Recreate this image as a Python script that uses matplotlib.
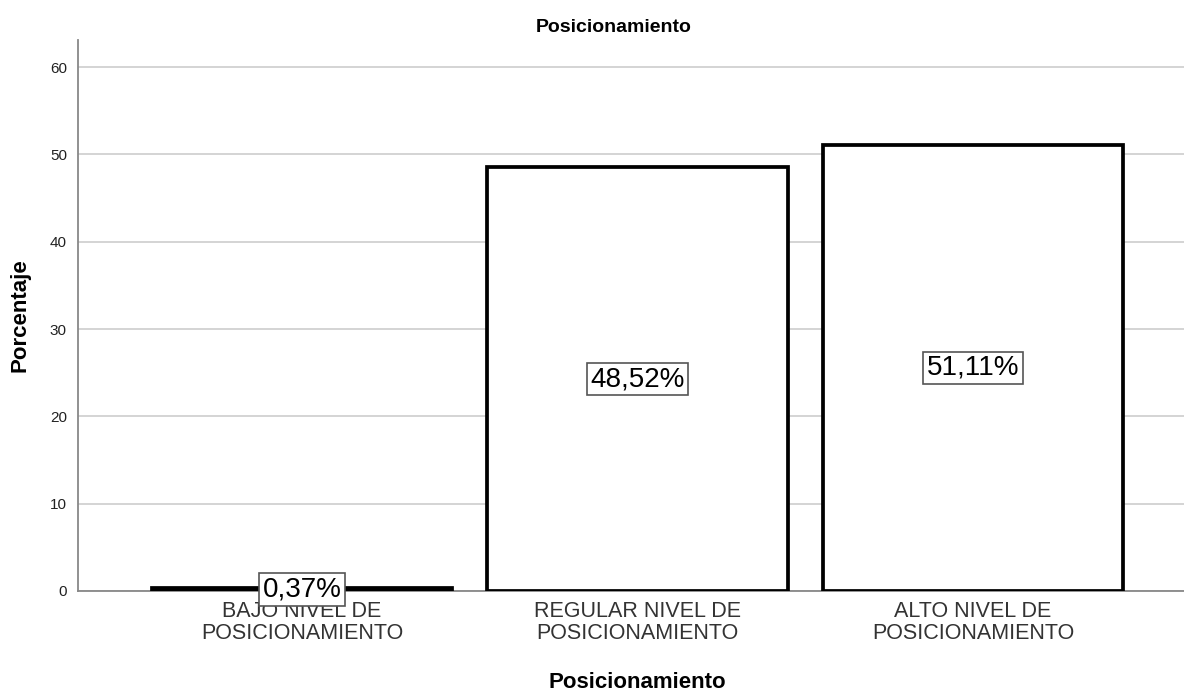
import matplotlib
matplotlib.use("Agg")
import matplotlib.pyplot as plt
import matplotlib.transforms as mtransforms

plt.rcParams['font.family'] = ['Liberation Sans', 'DejaVu Sans']

categories = ["BAJO NIVEL DE\nPOSICIONAMIENTO",
              "REGULAR NIVEL DE\nPOSICIONAMIENTO",
              "ALTO NIVEL DE\nPOSICIONAMIENTO"]
percentages = [0.37, 48.52, 51.11]
value_labels = ["0,37%", "48,52%", "51,11%"]
y_ticks = [0, 10, 20, 30, 40, 50, 60]

W, H, DPI = 1184, 695, 100
fig = plt.figure(figsize=(W / DPI, H / DPI), dpi=DPI)
ax = fig.add_axes([78 / W, 1 - 591 / H, (W - 78) / W, (591 - 40) / H])

x = list(range(len(categories)))
ax.set_xlim(-0.668, 2.629)
ax.set_ylim(0, 63.1)

# horizontal gridlines behind the bars
ax.set_yticks(y_ticks)
ax.yaxis.grid(True, color="#d4d4d4", linewidth=1.4)
ax.set_axisbelow(True)

ax.bar(x, percentages, width=0.895, facecolor="white", edgecolor="black",
       linewidth=2.7, zorder=3)

for xi, v, lab in zip(x, percentages, value_labels):
    ax.text(xi, v / 2, lab, ha="center", va="center", fontsize=20,
            color="black", zorder=5,
            bbox=dict(boxstyle="square,pad=0.12", facecolor="white",
                      edgecolor="#555555", linewidth=1.2))

ax.set_xticks(x)
ax.set_xticklabels(categories, fontsize=15.5, color="#333333",
                   linespacing=1.1)
ax.tick_params(axis="x", length=0, pad=7)
ax.tick_params(axis="y", length=0, pad=8, labelsize=11, labelcolor="#222222")

for side in ("top", "right"):
    ax.spines[side].set_visible(False)
ax.spines["left"].set_color("#888888")
ax.spines["left"].set_linewidth(1.3)
ax.spines["bottom"].set_color("#888888")
ax.spines["bottom"].set_linewidth(1.3)

fig.text(20 / W, 1 - 315 / H, "Porcentaje", ha="center", va="center",
         rotation=90, fontsize=16, fontweight="bold")

trans = mtransforms.blended_transform_factory(ax.transData, fig.transFigure)
ax.text(1, 1 - 683 / H, "Posicionamiento", transform=trans, ha="center",
        va="center", fontsize=16, fontweight="bold")
fig.text(614 / W, 1 - 28 / H, "Posicionamiento", ha="center", va="center",
         fontsize=14, fontweight="bold")

fig.savefig("out.png", dpi=DPI, facecolor="white")
